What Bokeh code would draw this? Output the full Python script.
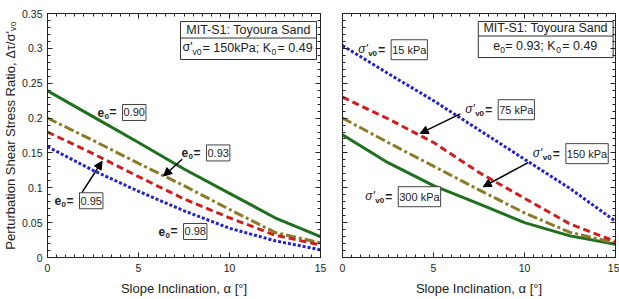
from bokeh.plotting import figure
from bokeh.layouts import row
from bokeh.models import (Range1d, LinearAxis, FixedTicker, NumeralTickFormatter,
                          Arrow, NormalHead)
from bokeh.core.properties import value
from bokeh.embed import file_html
from bokeh.resources import INLINE

FONT = "Liberation Sans"

# ---------------- data ----------------
alpha = [0, 2.5, 5, 7.5, 10, 12.5, 15]

# left panel: effect of void ratio (sigma'v0 = 150 kPa)
e090 = [0.239, 0.202, 0.165, 0.127, 0.092, 0.057, 0.030]
e093 = [0.200, 0.168, 0.135, 0.103, 0.069, 0.036, 0.021]
e095 = [0.180, 0.149, 0.116, 0.084, 0.057, 0.032, 0.018]
e098 = [0.159, 0.125, 0.095, 0.067, 0.042, 0.024, 0.011]

# right panel: effect of confining stress (e0 = 0.93)
s015 = [0.304, 0.264, 0.225, 0.183, 0.141, 0.099, 0.052]
s075 = [0.230, 0.199, 0.165, 0.122, 0.085, 0.048, 0.023]
s150 = [0.200, 0.165, 0.131, 0.097, 0.064, 0.036, 0.021]
s300 = [0.176, 0.136, 0.103, 0.077, 0.050, 0.031, 0.019]

x_ticks = [0, 5, 10, 15]
y_ticks = [0, 0.05, 0.1, 0.15, 0.2, 0.25, 0.3, 0.35]
x_minor = [i * 0.5 for i in range(31)]
y_minor = [i * 0.01 for i in range(36)]

GREEN = "#1f6f1f"
OLIVE = "#8c7a28"
RED = "#cc1f1f"
BLUE = "#2222c8"

styles = [
    (GREEN, "solid"),
    (OLIVE, "10 3 3 3"),
    (RED, "7 4"),
    (BLUE, "3 2"),
]


def make_fig(left_border, right_border, show_y):
    p = figure(frame_width=273, frame_height=244,
               x_range=Range1d(0, 15), y_range=Range1d(0, 0.35),
               output_backend="svg", toolbar_location=None,
               min_border_left=left_border, min_border_right=right_border,
               min_border_top=13, min_border_bottom=42,
               x_axis_type=None, y_axis_type=None)
    p.xgrid.visible = False
    p.ygrid.visible = False
    p.outline_line_color = "#222222"
    p.outline_line_width = 1
    p.background_fill_color = "white"
    p.border_fill_color = "white"

    def style_axis(ax, labels):
        ax.major_tick_in = 5
        ax.major_tick_out = 0
        ax.minor_tick_in = 3
        ax.minor_tick_out = 0
        ax.axis_line_color = "#222222"
        ax.major_tick_line_color = "#222222"
        ax.minor_tick_line_color = "#222222"
        if labels:
            ax.major_label_text_font = FONT
            ax.major_label_text_font_size = "10.5px"
            ax.major_label_text_color = "#222222"
            ax.major_label_standoff = 6
            ax.axis_label_text_font = FONT
            ax.axis_label_text_font_size = "13px"
            ax.axis_label_text_font_style = "normal"
            ax.axis_label_text_color = "#222222"
            ax.axis_label_standoff = 6
        else:
            ax.major_label_text_font_size = "1px"
            ax.major_label_text_color = None
            ax.major_label_standoff = 0

    xt = lambda: FixedTicker(ticks=x_ticks, minor_ticks=x_minor)
    yt = lambda: FixedTicker(ticks=y_ticks, minor_ticks=y_minor)

    xb = LinearAxis(ticker=xt(), axis_label="Slope Inclination, \u03b1 [\u00b0]")
    style_axis(xb, True)
    p.add_layout(xb, "below")
    xa = LinearAxis(ticker=xt())
    style_axis(xa, False)
    p.add_layout(xa, "above")

    if show_y:
        yl = LinearAxis(ticker=yt(), formatter=NumeralTickFormatter(format="0.[00]"),
                        axis_label="Perturbation Shear Stress Ratio, \u0394\u03c4/\u03c3'\u1d65\u2080")
        style_axis(yl, True)
        yl.major_label_standoff = 5
        yl.axis_label_standoff = 1
    else:
        yl = LinearAxis(ticker=yt())
        style_axis(yl, False)
    p.add_layout(yl, "left")
    yr = LinearAxis(ticker=yt())
    style_axis(yr, False)
    p.add_layout(yr, "right")
    return p


def put(p, x, y, s, dx=0, dy=0, size="11px", style="normal", align="left", box=False):
    kw = {}
    if box:
        kw = dict(border_line_color="#444444", border_line_width=1,
                  background_fill_color="white", padding=(1, 4))
    p.text(x=[x], y=[y], text=[s], x_offset=dx, y_offset=dy,
           text_font=value(FONT), text_font_size=size, text_font_style=style,
           text_align=align, text_baseline="middle", text_color="#222222", **kw)


def e_label(p, x, y, val):
    put(p, x, y, "e", 0, 0, "12px", "bold")
    put(p, x, y, "0", 7, 4, "8px", "bold")
    put(p, x, y, "=", 12, 0, "12px", "bold")
    put(p, x, y, val, 25, 0, "11px", box=True)


def s_label(p, x, y, val):
    put(p, x, y, "\u03c3'", 0, -1, "12px", "italic")
    put(p, x, y, "v0", 10, 4, "8px", "bold")
    put(p, x, y, "=", 20, 0, "12px", "bold")
    put(p, x, y, val, 33, 0, "11px", box=True)


def arrow(p, xs, ys, xe, ye):
    p.add_layout(Arrow(end=NormalHead(size=8, fill_color="black", line_color="black"),
                       x_start=xs, y_start=ys, x_end=xe, y_end=ye,
                       line_color="black", line_width=1.5))


def legend_box(p, l, r, t, m, b):
    p.quad(left=[l], right=[r], top=[t], bottom=[b], fill_color="white",
           line_color="#333333", line_width=1)
    p.segment(x0=[l], x1=[r], y0=[m], y1=[m], line_color="#333333", line_width=1)


# ---------------- left ----------------
p1 = make_fig(47, 10, True)
for ys, (c, d) in zip([e090, e093, e095, e098], styles):
    p1.line(alpha, ys, line_color=c, line_dash=d, line_width=3)

legend_box(p1, 7.31, 14.78, 0.3385, 0.3148, 0.284)
put(p1, 11.04, 0.327, "MIT-S1: Toyoura Sand", size="12.5px", align="center")
put(p1, 7.42, 0.301, "\u03c3'", 0, -1, "12.5px")
put(p1, 7.42, 0.301, "v0", 10, 4, "8.5px")
put(p1, 7.42, 0.301, "= 150kPa; K", 20, 0, "12.5px")
put(p1, 7.42, 0.301, "0", 89, 4, "8.5px")
put(p1, 7.42, 0.301, "= 0.49", 95, 0, "12.5px")

e_label(p1, 2.75, 0.208, "0.90")
e_label(p1, 7.36, 0.150, "0.93")
e_label(p1, 0.385, 0.0814, "0.95")
e_label(p1, 6.1, 0.0373, "0.98")
arrow(p1, 7.4, 0.141, 6.38, 0.117)
arrow(p1, 1.9, 0.0934, 3.0, 0.138)

# ---------------- right ----------------
p2 = make_fig(12, 4, False)
for ys, (c, d) in zip([s300, s150, s075, s015], styles):
    p2.line(alpha, ys, line_color=c, line_dash=d, line_width=3)

legend_box(p2, 7.46, 14.87, 0.3385, 0.3177, 0.2868)
put(p2, 11.16, 0.3285, "MIT-S1: Toyoura Sand", size="12.5px", align="center")
put(p2, 8.28, 0.304, "e", 0, 0, "12.5px")
put(p2, 8.28, 0.304, "0", 7, 4, "8.5px")
put(p2, 8.28, 0.304, "= 0.93; K", 12, 0, "12.5px")
put(p2, 8.28, 0.304, "0", 63, 4, "8.5px")
put(p2, 8.28, 0.304, "= 0.49", 69, 0, "12.5px")

s_label(p2, 0.86, 0.298, "15 kPa")
s_label(p2, 6.74, 0.212, "75 kPa")
s_label(p2, 10.46, 0.149, "150 kPa")
s_label(p2, 1.25, 0.0872, "300 kPa")
arrow(p2, 6.47, 0.206, 4.27, 0.178)
arrow(p2, 10.2, 0.136, 7.73, 0.1015)

layout = row(p1, p2)
open("out.html", "w").write(file_html(layout, INLINE))
